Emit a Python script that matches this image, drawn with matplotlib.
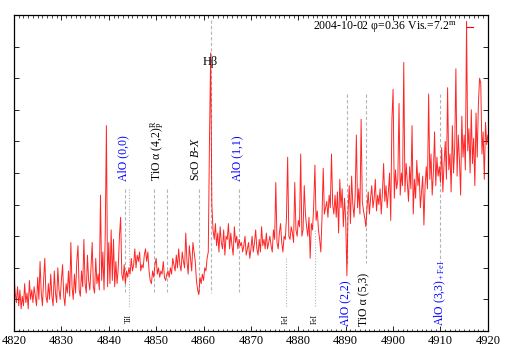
import numpy as np
import matplotlib
matplotlib.use("Agg")
import matplotlib.pyplot as plt

plt.rcParams['font.family'] = ['Liberation Serif', 'DejaVu Serif']
plt.rcParams['mathtext.fontset'] = 'custom'
plt.rcParams['mathtext.rm'] = 'Liberation Serif'
plt.rcParams['mathtext.it'] = 'Liberation Serif:italic'

wl_start = 4820.0
wl_step = 0.25
flux = [
    1.8, 1.2, 0.9, 1.4, 0.8, 1.3, 0.7, 1.1,
    0.8, 1.5, 0.9, 1.2, 0.7, 1.6, 1.0, 1.3,
    0.9, 1.4, 1.1, 0.8, 1.7, 1.0, 2.2, 1.2,
    0.8, 1.6, 2.3, 1.1, 0.9, 1.5, 1.0, 1.8,
    1.1, 0.8, 1.9, 1.2, 0.9, 2.0, 1.3, 1.0,
    1.6, 2.1, 1.1, 0.8, 1.5, 1.2, 1.9, 1.1,
    2.8, 1.4, 1.0, 1.8, 1.2, 2.2, 2.7, 1.3,
    1.1, 1.9, 1.4, 2.9, 1.5, 1.2, 2.4, 1.6,
    1.3, 2.0, 2.8, 1.4, 1.2, 2.3, 1.5, 1.8,
    1.3, 4.3, 1.6, 2.5, 1.3, 3.0, 6.5, 1.4,
    2.8, 1.5, 3.2, 1.6, 2.9, 1.4, 2.2, 1.5,
    2.0, 3.0, 3.6, 1.8, 1.6, 2.1, 1.5, 1.9,
    1.7, 2.0, 1.8, 2.3, 1.9, 2.1, 2.6, 2.0,
    2.4, 2.2, 2.5, 1.9, 2.1, 2.0, 2.4, 2.6,
    2.2, 2.5, 1.9, 1.6, 1.5, 1.9, 1.7, 2.1,
    2.3, 1.8, 2.0, 1.7, 1.9, 1.8, 2.2, 1.7,
    1.6, 1.8, 1.9, 1.7, 2.0, 1.8, 2.3, 2.1,
    1.9, 2.4, 2.0, 2.6, 2.1, 1.9, 2.5, 2.2,
    2.0, 3.1, 2.2, 1.8, 2.7, 2.3, 1.9, 2.8,
    2.5, 2.2, 1.6, 1.3, 1.15, 1.7, 1.5, 1.8,
    1.6, 2.0, 1.9, 2.3, 2.5, 6.0, 8.8, 4.0,
    3.2, 2.9, 3.4, 2.7, 3.1, 2.5, 3.3, 2.8,
    2.6, 3.2, 2.4, 3.0, 2.9, 3.4, 2.6, 3.1,
    2.7, 2.4, 3.3, 2.8, 3.0, 2.6, 2.9, 2.7,
    2.8, 2.5, 2.7, 3.0, 2.4, 2.6, 2.8, 2.3,
    2.6, 3.0, 2.5, 2.8, 3.2, 2.6, 2.4, 2.9,
    2.5, 3.3, 2.7, 2.9, 2.6, 3.1, 2.6, 2.8,
    3.0, 2.7, 2.5, 3.2, 2.9, 4.7, 2.8, 2.6,
    3.1, 3.4, 2.8, 2.5, 3.0, 2.9, 3.6, 5.5,
    3.0, 2.9, 3.3, 3.1, 2.8, 4.7, 3.2, 3.0,
    3.5, 3.3, 5.6, 3.0, 3.2, 4.6, 3.7, 3.3,
    3.0, 3.6, 2.3, 3.4, 3.2, 4.0, 5.25, 3.5,
    3.8, 3.2, 2.9, 2.5, 3.6, 5.15, 3.7, 3.9,
    4.1, 3.6, 4.3, 3.9, 5.6, 4.0, 3.7, 4.3,
    3.6, 4.4, 3.1, 4.8, 3.9, 4.5, 3.3, 4.2,
    3.5, 1.75, 3.8, 4.6, 3.4, 4.9, 4.0, 3.6,
    4.3, 6.2, 3.9, 4.5, 3.7, 6.7, 4.1, 3.8,
    3.6, 3.3, 3.9, 4.4, 3.7, 4.2, 4.6, 3.9,
    4.2, 4.8, 3.8, 4.3, 4.0, 4.5, 3.7, 4.4,
    5.3, 4.1, 4.6, 3.9, 4.4, 5.0, 3.5, 6.7,
    7.65, 4.2, 5.1, 4.5, 4.8, 7.2, 4.3, 5.0,
    4.6, 8.5, 4.4, 5.3, 4.7, 4.1, 5.2, 4.5,
    6.5, 3.7, 4.8, 4.2, 5.4, 4.6, 5.0, 3.9,
    4.4, 4.9, 3.35, 4.6, 5.2, 4.5, 7.5, 4.8,
    5.6, 4.3, 5.0, 6.3, 4.6, 5.5, 4.9, 5.2,
    4.7, 5.8, 4.4, 5.3, 6.0, 4.8, 7.7, 5.1,
    5.6, 4.4, 6.5, 5.0, 5.8, 8.3, 4.9, 6.2,
    5.4, 4.3, 6.8, 5.5, 6.2, 5.1, 9.8, 5.7,
    6.4, 5.0, 7.0, 5.3, 6.1, 4.6, 6.9, 5.5,
    7.2, 8.0, 7.85, 5.6, 6.3, 4.8, 6.6, 5.9,
    6.2,
]
wave = wl_start + wl_step * np.arange(len(flux))

# line identifications above the spectrum: (wavelength, label, colour, x of label)
upper_lines = [4843.4, 4849.5, 4852.3, 4859.0, 4867.4]
upper_labels = [(4843.0, 'AlO (0,0)', 'blue'),
                (4850.3, r'TiO α (4,2)$^{\rm R}_{\rm P}$', 'black'),
                (4858.5, r'ScO $B$-$X$', 'black'),
                (4867.2, 'AlO (1,1)', 'blue')]
# line identifications below the spectrum
lower_lines = [4890.2, 4894.2, 4910.0]
lower_labels = [(4889.9, 'AlO (2,2)', 'blue'),
                (4894.0, 'TiO α (5,3)', 'black'),
                (4909.9, r'AlO (3,3)$_{\rm +FeI}$', 'blue')]
atomic_lines = [4844.2, 4877.4, 4883.5]
atomic_labels = ['TiI', 'FeI', 'FeI']
atomic_tops = [4.5, 2.3, 3.2]
hbeta = 4861.5

fig = plt.figure(figsize=(5.09, 3.56), dpi=100)
ax = fig.add_axes([0.0275, 0.0702, 0.931, 0.8877])

gray = '#b4b4b4'
dash = (0, (3, 2))
for w in upper_lines:
    ax.plot([w, w], [4.5, 1.25], color=gray, lw=0.8, ls=dash)
for w in lower_lines:
    ax.plot([w, w], [7.5, 2.15], color=gray, lw=0.8, ls=dash)
for w, top in zip(atomic_lines, atomic_tops):
    ax.plot([w, w], [top, 0.75], color=gray, lw=0.8, ls=(0, (1, 1.5)))
ax.plot([hbeta, hbeta], [9.85, 1.2], color=gray, lw=0.8, ls=dash)

ax.plot(wave, flux, color='red', lw=0.7, alpha=0.85)

for x, s, c in upper_labels:
    ax.text(x, 4.75, s, color=c, rotation=90, ha='center', va='bottom', fontsize=8.5)
for x, s, c in lower_labels:
    ax.text(x, 0.15, s, color=c, rotation=90, ha='center', va='bottom', fontsize=8.5)
for w, s in zip(atomic_lines, atomic_labels):
    ax.text(w, 0.38, s, rotation=90, ha='center', va='center', fontsize=5.5)
ax.text(hbeta, 8.5, 'Hβ', ha='center', va='center', fontsize=9)

ax.text(4913.5, 9.62, r'2004-10-02 φ=0.36 Vis.=7.2$^{\rm m}$', ha='right', va='center', fontsize=8.5)
ax.plot([4915.6, 4916.8], [9.62, 9.62], color='red', lw=0.8)

ax.set_xlim(4820, 4920)
ax.set_ylim(0, 10)
ax.set_xticks(np.arange(4820, 4921, 10))
ax.set_xticks(np.arange(4820, 4921, 1), minor=True)
ax.set_yticks(np.arange(1, 10, 1))
ax.set_yticklabels([])
ax.tick_params(axis='both', which='major', direction='in', top=True, right=True, length=3.5, width=0.6, labelsize=9, pad=3)
ax.tick_params(axis='x', which='minor', direction='in', top=True, length=1.8, width=0.5)
for sp in ax.spines.values():
    sp.set_linewidth(0.9)

fig.savefig('out.png', dpi=100)
